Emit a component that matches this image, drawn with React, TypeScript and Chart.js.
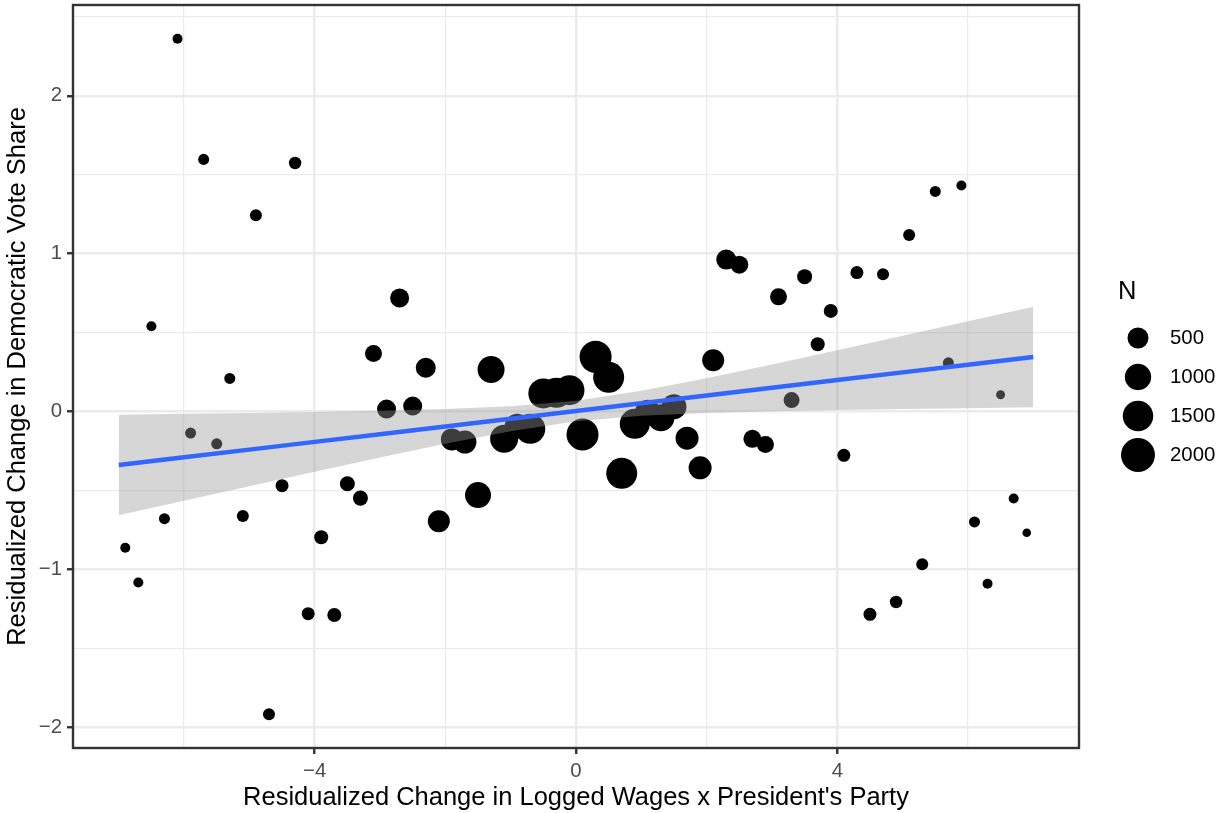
import { useEffect, useRef } from 'react';
import { Chart, registerables } from 'chart.js';

Chart.register(...registerables);

// Binned points: x bin centre, mean residualized vote share change, bin size N
const binX = [
  -6.9, -6.7, -6.5, -6.3, -6.1, -5.9, -5.7, -5.5, -5.3, -5.1,
  -4.9, -4.7, -4.5, -4.3, -4.1, -3.9, -3.7, -3.5, -3.3, -3.1,
  -2.9, -2.7, -2.5, -2.3, -2.1, -1.9, -1.7, -1.5, -1.3, -1.1,
  -0.9, -0.7, -0.5, -0.3, -0.1, 0.1, 0.3, 0.5, 0.7, 0.9,
  1.1, 1.3, 1.5, 1.7, 1.9, 2.1, 2.3, 2.5, 2.7, 2.9,
  3.1, 3.3, 3.5, 3.7, 3.9, 4.1, 4.3, 4.5, 4.7, 4.9,
  5.1, 5.3, 5.5, 5.7, 5.9, 6.1, 6.3, 6.5, 6.7, 6.9,
];
const binY = [
  -0.863, -1.084, 0.54, -0.679, 2.361, -0.137, 1.597, -0.205, 0.209, -0.662,
  1.243, -1.918, -0.47, 1.574, -1.281, -0.797, -1.289, -0.458, -0.549, 0.367,
  0.015, 0.719, 0.034, 0.277, -0.696, -0.177, -0.194, -0.53, 0.266, -0.173,
  -0.093, -0.11, 0.114, 0.118, 0.135, -0.146, 0.346, 0.217, -0.392, -0.078,
  -0.008, -0.04, 0.03, -0.169, -0.357, 0.325, 0.962, 0.93, -0.173, -0.209,
  0.726, 0.072, 0.854, 0.426, 0.637, -0.278, 0.88, -1.285, 0.869, -1.207,
  1.118, -0.968, 1.394, 0.308, 1.432, -0.7, -1.091, 0.106, -0.551, -0.768,
];
const binN = [
  12, 12, 12, 27, 12, 27, 27, 27, 27, 48,
  48, 48, 74, 60, 74, 107, 107, 146, 146, 241,
  360, 360, 360, 428, 583, 583, 669, 963, 1073, 1189,
  859, 1439, 1439, 1439, 1439, 1712, 1712, 1572, 1572, 1439,
  963, 1073, 859, 669, 669, 583, 428, 297, 297, 241,
  241, 190, 146, 107, 107, 74, 74, 74, 48, 60,
  48, 48, 27, 27, 12, 27, 12, 3, 12, 1,
];

// Linear fit with 95% confidence band
const smoothX = [-7.0, -6.0, -5.0, -4.0, -3.0, -2.0, -1.0, 0.0, 1.0, 2.0, 3.0, 4.0, 5.0, 6.0, 7.0];
const smoothFit = [-0.339, -0.29, -0.242, -0.193, -0.144, -0.095, -0.046, 0.003, 0.052, 0.101, 0.15, 0.199, 0.248, 0.296, 0.345];
const smoothLower = [-0.657, -0.565, -0.474, -0.382, -0.292, -0.205, -0.125, -0.062, -0.027, -0.009, 0.002, 0.01, 0.016, 0.021, 0.027];
const smoothUpper = [-0.021, -0.015, -0.01, -0.004, 0.004, 0.015, 0.033, 0.068, 0.131, 0.211, 0.298, 0.388, 0.48, 0.571, 0.664];

const xMajorTicks = [-4, 0, 4];
const xMinorTicks = [-6, -2, 2, 6];
const yMajorTicks = [-2, -1, 0, 1, 2];
const yMinorTicks = [-1.5, -0.5, 0.5, 1.5, 2.5];
const legendN = [500, 1000, 1500, 2000];

const FONT = '"Liberation Sans", Arial, Helvetica, sans-serif';
const TICK_SIZE = 20.4;
const TITLE_SIZE = 25.5;

const radiusFor = (n: number) => 4 + 0.29 * Math.sqrt(n);
const fmt = (v: number) => (v < 0 ? '\u2212' + Math.abs(v) : String(v));

const borderPlugin = {
  id: 'panelBorder',
  afterDatasetsDraw(chart: any) {
    const { ctx, chartArea } = chart;
    ctx.save();
    ctx.strokeStyle = '#333333';
    ctx.lineWidth = 2.4;
    ctx.strokeRect(chartArea.left, chartArea.top, chartArea.right - chartArea.left, chartArea.bottom - chartArea.top);
    ctx.restore();
  },
};

const sizeLegendPlugin = {
  id: 'sizeLegend',
  afterDraw(chart: any) {
    const { ctx, chartArea } = chart;
    const kx = chartArea.right + 59;
    const tx = chartArea.right + 91;
    ctx.save();
    ctx.fillStyle = '#000000';
    ctx.textAlign = 'left';
    ctx.textBaseline = 'middle';
    ctx.font = `${TITLE_SIZE}px ${FONT}`;
    ctx.fillText('N', chartArea.right + 39, 292);
    ctx.font = `${TICK_SIZE}px ${FONT}`;
    legendN.forEach((n, i) => {
      const y = 338 + i * 39;
      ctx.beginPath();
      ctx.arc(kx, y, radiusFor(n), 0, Math.PI * 2);
      ctx.fill();
      ctx.fillText(String(n), tx, y);
    });
    ctx.restore();
  },
};

const isMajor = (arr: number[], v: number) => arr.some((m) => Math.abs(m - v) < 1e-9);

export default function App() {
  const canvasRef = useRef<HTMLCanvasElement | null>(null);

  useEffect(() => {
    document.body.style.margin = '0';
    const canvas = canvasRef.current;
    if (!canvas) return;

    const points = binX.map((x, i) => ({ x, y: binY[i] }));
    const lower = smoothX.map((x, i) => ({ x, y: smoothLower[i] }));
    const upper = smoothX.map((x, i) => ({ x, y: smoothUpper[i] }));
    const fit = smoothX.map((x, i) => ({ x, y: smoothFit[i] }));

    const gridFor = (major: number[]) => ({
      color: '#EBEBEB',
      lineWidth: (c: any) => (c.tick && isMajor(major, c.tick.value) ? 2.5 : 1.25),
      tickColor: (c: any) => (c.tick && isMajor(major, c.tick.value) ? '#333333' : 'rgba(0,0,0,0)'),
      tickWidth: 2.4,
      tickLength: 6,
      drawTicks: true,
    });

    const chart = new Chart(canvas, {
      type: 'scatter',
      data: {
        datasets: [
          {
            label: 'bins',
            data: points,
            pointRadius: binN.map(radiusFor),
            pointHoverRadius: binN.map(radiusFor),
            pointBackgroundColor: '#000000',
            pointBorderWidth: 0,
            pointBorderColor: 'rgba(0,0,0,0)',
            order: 3,
          },
          {
            label: 'lower',
            data: lower,
            showLine: true,
            borderColor: 'rgba(0,0,0,0)',
            borderWidth: 1,
            pointRadius: 0,
            fill: false,
            order: 2,
          },
          {
            label: 'upper',
            data: upper,
            showLine: true,
            borderColor: 'rgba(0,0,0,0)',
            borderWidth: 1,
            pointRadius: 0,
            backgroundColor: 'rgba(153,153,153,0.4)',
            fill: '-1',
            order: 2,
          },
          {
            label: 'fit',
            data: fit,
            showLine: true,
            borderColor: '#3366FF',
            borderWidth: 4.4,
            pointRadius: 0,
            fill: false,
            order: 1,
          },
        ],
      },
      options: {
        responsive: false,
        animation: false,
        events: [],
        layout: { autoPadding: false, padding: { left: 0, right: 139, top: 5, bottom: 0 } },
        plugins: {
          legend: { display: false },
          tooltip: { enabled: false },
        },
        scales: {
          x: {
            type: 'linear',
            min: -7.7,
            max: 7.7,
            afterBuildTicks: (s: any) => {
              s.ticks = [...xMajorTicks, ...xMinorTicks].sort((a, b) => a - b).map((value) => ({ value }));
            },
            afterFit: (s: any) => {
              s.height = 65;
              s.paddingLeft = 0;
              s.paddingRight = 0;
            },
            ticks: {
              autoSkip: false,
              maxRotation: 0,
              padding: 5,
              color: '#4D4D4D',
              font: { family: FONT, size: TICK_SIZE },
              callback: (v: any) => (isMajor(xMajorTicks, Number(v)) ? fmt(Number(v)) : ''),
            },
            grid: gridFor(xMajorTicks),
            border: { display: false },
            title: {
              display: true,
              text: "Residualized Change in Logged Wages x President's Party",
              color: '#000000',
              font: { family: FONT, size: TITLE_SIZE },
              padding: { top: 0, bottom: 0 },
            },
          },
          y: {
            type: 'linear',
            min: -2.132,
            max: 2.575,
            afterBuildTicks: (s: any) => {
              s.ticks = [...yMajorTicks, ...yMinorTicks].sort((a, b) => a - b).map((value) => ({ value }));
            },
            afterFit: (s: any) => {
              s.width = 73;
              s.paddingTop = 0;
              s.paddingBottom = 0;
            },
            ticks: {
              autoSkip: false,
              padding: 5,
              color: '#4D4D4D',
              font: { family: FONT, size: TICK_SIZE },
              callback: (v: any) => (isMajor(yMajorTicks, Number(v)) ? fmt(Number(v)) : ''),
            },
            grid: gridFor(yMajorTicks),
            border: { display: false },
            title: {
              display: true,
              text: 'Residualized Change in Democratic Vote Share',
              color: '#000000',
              font: { family: FONT, size: TITLE_SIZE },
              padding: { top: 3, bottom: 0 },
            },
          },
        },
      },
      plugins: [borderPlugin, sizeLegendPlugin],
    } as any);

    return () => chart.destroy();
  }, []);

  return (
    <div style={{ width: 1218, height: 813 }}>
      <canvas ref={canvasRef} width={1218} height={813} style={{ display: 'block', width: 1218, height: 813 }} />
    </div>
  );
}
